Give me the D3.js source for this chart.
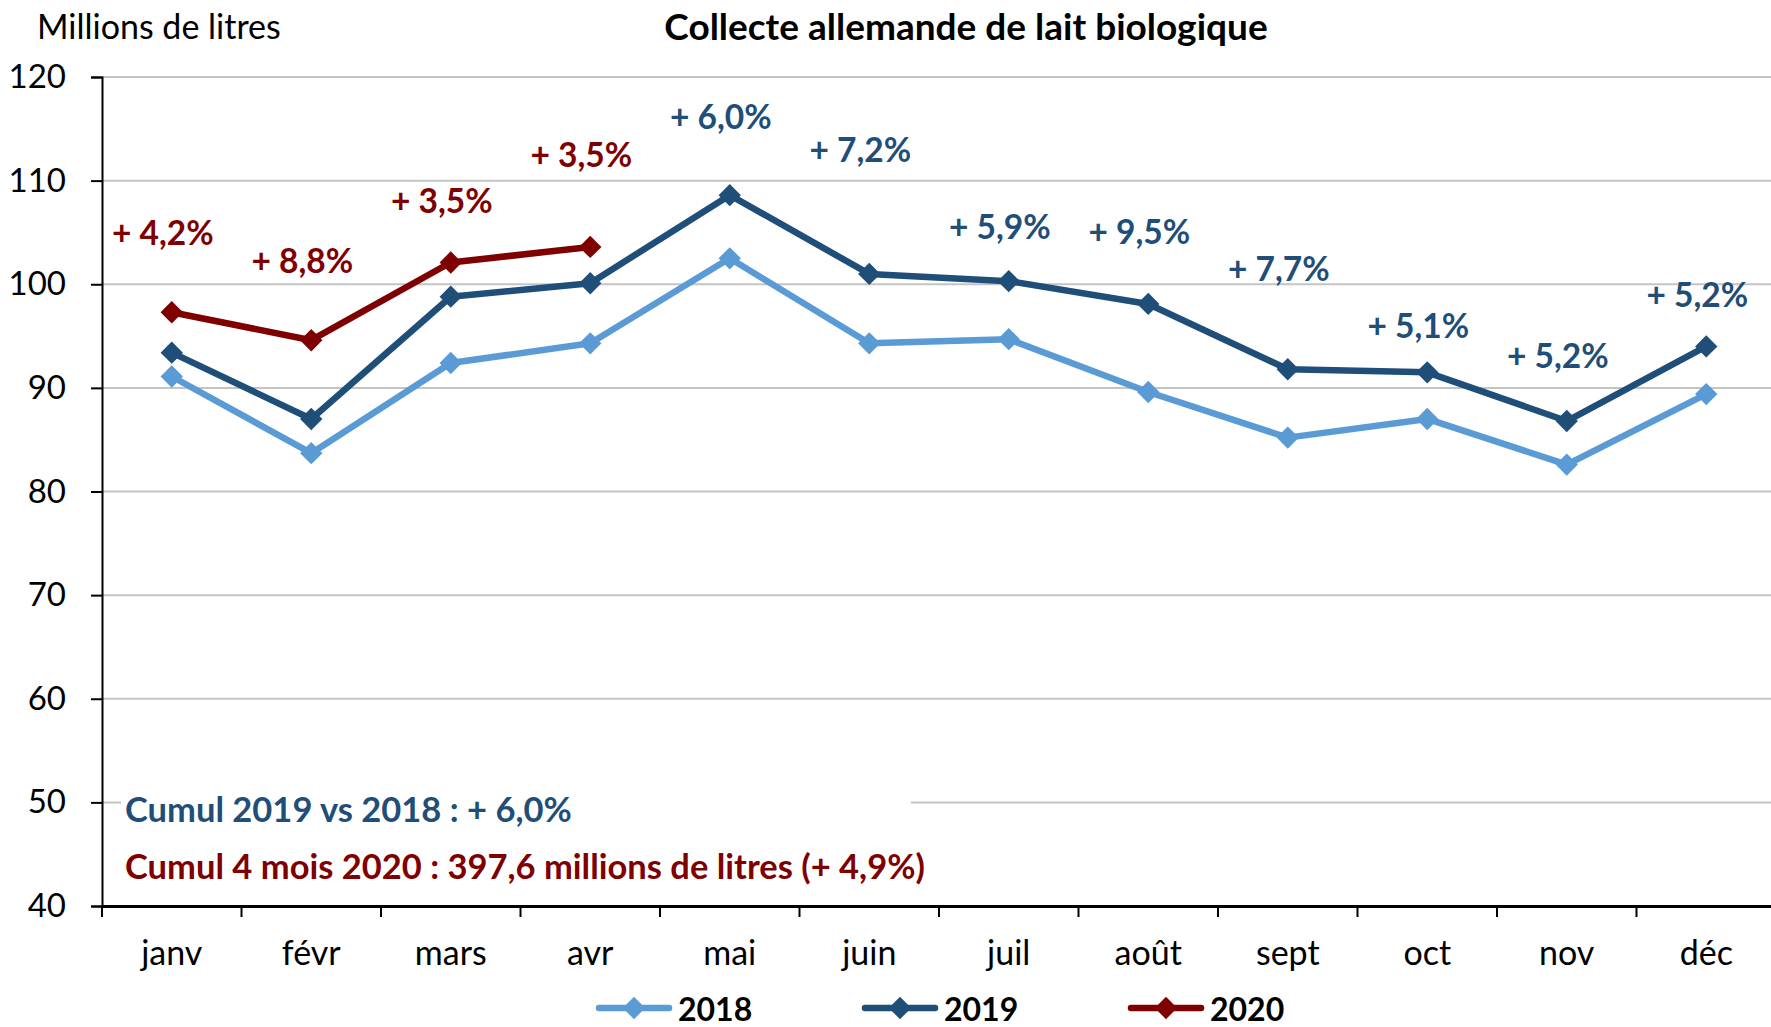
<!DOCTYPE html>
<html>
<head>
<meta charset="utf-8">
<script src="https://cdn.jsdelivr.net/npm/d3@7"></script>
<style>
  body { margin: 0; background: #fff; }
  text { font-family: Lato, Calibri, sans-serif; }
</style>
</head>
<body>
<div id="chart"></div>
<script>
// data (millions de litres)
const months = ["janv", "févr", "mars", "avr", "mai", "juin", "juil", "août", "sept", "oct", "nov", "déc"];
const v2018 = [91.1, 83.7, 92.4, 94.3, 102.5, 94.3, 94.7, 89.6, 85.2, 87.0, 82.6, 89.4];
const v2019 = [93.4, 87.0, 98.8, 100.1, 108.6, 101.0, 100.3, 98.1, 91.8, 91.5, 86.8, 94.0];
const v2020 = [97.3, 94.6, 102.1, 103.6];
const yTicks = [40, 50, 60, 70, 80, 90, 100, 110, 120];

// growth labels: 2020 vs 2019 on first 4 months, 2019 vs 2018 from may
const pct2020 = ["+ 4,2%", "+ 8,8%", "+ 3,5%", "+ 3,5%"];
const pct2019 = ["+ 6,0%", "+ 7,2%", "+ 5,9%", "+ 9,5%", "+ 7,7%", "+ 5,1%", "+ 5,2%", "+ 5,2%"];
// label heights, in axis units
const pct2020At = [105.0, 102.3, 108.1, 112.6];
const pct2019At = [116.2, 113.1, 105.6, 105.1, 101.6, 96.1, 93.2, 99.1];

const W = 1771, H = 1027;
const margin = {left: 102, top: 77, bottom: 906};
const step = 139.5;

const svg = d3.select("#chart").append("svg")
  .attr("width", W)
  .attr("height", H);

const x = d3.scaleBand()
  .domain(months)
  .range([margin.left, margin.left + step * months.length]);

const y = d3.scaleLinear()
  .domain([40, 120])
  .range([margin.bottom, margin.top]);

const cx = function(m) { return x(m) + x.bandwidth() / 2; };

// gridlines
svg.append("g")
  .selectAll("line")
  .data(yTicks.filter(d => d > 40))
  .join("line")
    .attr("x1", margin.left)
    .attr("x2", W)
    .attr("y1", d => y(d))
    .attr("y2", d => y(d))
    .attr("stroke", "#c4c4c4")
    .attr("stroke-width", 2);

// y axis
const yAxis = svg.append("g")
  .attr("transform", `translate(${margin.left},0)`)
  .call(d3.axisLeft(y).tickValues(yTicks).tickSize(11).tickPadding(25));
yAxis.select(".domain").attr("stroke", "#000").attr("stroke-width", 2);
yAxis.selectAll(".tick line").attr("stroke", "#000").attr("stroke-width", 2);
yAxis.selectAll("text")
  .style("font-family", "Lato")
  .style("font-size", "33px")
  .attr("fill", "#000");

// x axis
const xAxis = svg.append("g")
  .attr("transform", `translate(0,${margin.bottom})`)
  .call(d3.axisBottom(x).tickSize(0).tickPadding(35));
xAxis.select(".domain").attr("stroke", "#000").attr("stroke-width", 3);
xAxis.selectAll("text")
  .style("font-family", "Lato")
  .style("font-size", "34px")
  .attr("fill", "#000");
// tick marks between categories
xAxis.selectAll(".sep")
  .data(months)
  .join("line")
    .attr("class", "sep")
    .attr("x1", d => x(d))
    .attr("x2", d => x(d))
    .attr("y1", 0)
    .attr("y2", 11)
    .attr("stroke", "#000")
    .attr("stroke-width", 2);

// white box behind the cumul notes
svg.append("rect")
  .attr("x", 121)
  .attr("y", y(50) - 20)
  .attr("width", 790)
  .attr("height", 100)
  .attr("fill", "#fff");

const series = [
  {name: "2018", values: v2018, color: "#5b9bd5"},
  {name: "2019", values: v2019, color: "#1f4e79"},
  {name: "2020", values: v2020, color: "#7f0000"}
];

const line = d3.line()
  .x((d, i) => cx(months[i]))
  .y(d => y(d));

const diamond = d3.symbol().type(d3.symbolSquare).size(250);

series.forEach(function(s) {
  svg.append("path")
    .datum(s.values)
    .attr("d", line)
    .attr("fill", "none")
    .attr("stroke", s.color)
    .attr("stroke-width", 6.5)
    .attr("stroke-linejoin", "round");

  svg.append("g")
    .selectAll("path")
    .data(s.values)
    .join("path")
      .attr("d", diamond)
      .attr("transform", (d, i) => `translate(${cx(months[i])},${y(d)}) rotate(45)`)
      .attr("fill", s.color);
});

// growth labels
svg.append("g")
  .selectAll("text")
  .data(pct2020)
  .join("text")
    .attr("x", (d, i) => cx(months[i]) - 9)
    .attr("y", (d, i) => y(pct2020At[i]))
    .attr("text-anchor", "middle")
    .attr("dominant-baseline", "central")
    .attr("font-size", 33.5)
    .attr("font-weight", "bold")
    .attr("fill", "#7f0000")
    .text(d => d);

svg.append("g")
  .selectAll("text")
  .data(pct2019)
  .join("text")
    .attr("x", (d, i) => cx(months[i + 4]) - 9)
    .attr("y", (d, i) => y(pct2019At[i]))
    .attr("text-anchor", "middle")
    .attr("dominant-baseline", "central")
    .attr("font-size", 33.5)
    .attr("font-weight", "bold")
    .attr("fill", "#1f4e79")
    .text(d => d);

// cumul notes
svg.append("text")
  .attr("x", 125)
  .attr("y", 808)
  .attr("dominant-baseline", "central")
  .attr("font-size", 34.5)
  .attr("font-weight", "bold")
  .attr("fill", "#1f4e79")
  .text("Cumul 2019 vs 2018 : + 6,0%");

svg.append("text")
  .attr("x", 125)
  .attr("y", 865)
  .attr("dominant-baseline", "central")
  .attr("font-size", 34.5)
  .attr("font-weight", "bold")
  .attr("fill", "#7f0000")
  .text("Cumul 4 mois 2020 : 397,6 millions de litres (+ 4,9%)");

// titles
svg.append("text")
  .attr("x", 966)
  .attr("y", 25)
  .attr("text-anchor", "middle")
  .attr("dominant-baseline", "central")
  .attr("font-size", 37)
  .attr("font-weight", "bold")
  .attr("fill", "#000")
  .text("Collecte allemande de lait biologique");

svg.append("text")
  .attr("x", 37)
  .attr("y", 25)
  .attr("dominant-baseline", "central")
  .attr("font-size", 34)
  .attr("fill", "#000")
  .text("Millions de litres");

// legend
const legendX = [599, 865, 1131];
const legend = svg.append("g")
  .selectAll("g")
  .data(series)
  .join("g")
    .attr("transform", (d, i) => `translate(${legendX[i]},1008)`);
legend.append("line")
  .attr("x1", 0)
  .attr("x2", 70)
  .attr("stroke", d => d.color)
  .attr("stroke-width", 6.5)
  .attr("stroke-linecap", "round");
legend.append("path")
  .attr("d", diamond)
  .attr("transform", "translate(35,0) rotate(45)")
  .attr("fill", d => d.color);
legend.append("text")
  .attr("x", 79)
  .attr("dominant-baseline", "central")
  .attr("font-size", 32)
  .attr("font-weight", "bold")
  .attr("fill", "#000")
  .text(d => d.name);
</script>
</body>
</html>
